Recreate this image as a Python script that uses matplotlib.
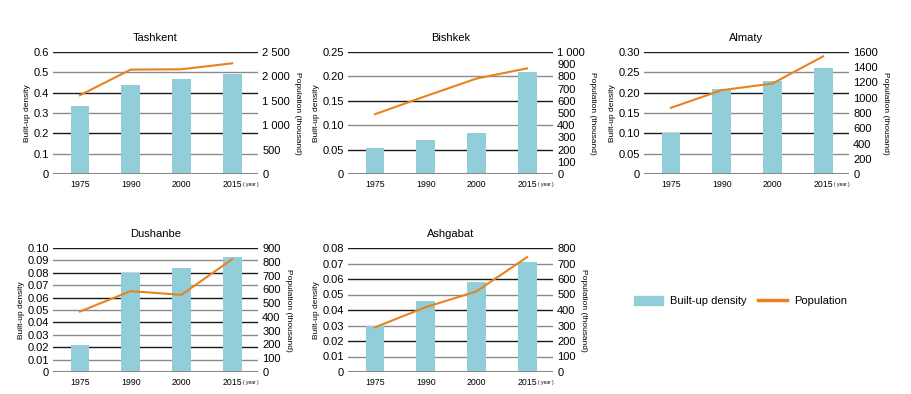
import numpy as np
import matplotlib.pyplot as plt
from matplotlib.patches import Patch
from matplotlib.lines import Line2D

plt.rcParams['font.family'] = ['Liberation Sans', 'DejaVu Sans']

years = ['1975', '1990', '2000', '2015']

# built-up density (left axis) and population in thousands (right axis)
tashkent_density = [0.335, 0.44, 0.465, 0.49]
tashkent_pop = [1614, 2139, 2146, 2268]
bishkek_density = [0.053, 0.069, 0.085, 0.21]
bishkek_pop = [490, 638, 782, 866]
almaty_density = [0.10, 0.21, 0.228, 0.26]
almaty_pop = [868, 1099, 1186, 1543]
dushanbe_density = [0.022, 0.080, 0.084, 0.093]
dushanbe_pop = [439, 587, 560, 818]
ashgabat_density = [0.030, 0.046, 0.058, 0.071]
ashgabat_pop = [288, 418, 520, 741]

bar_col = '#92CEDA'
line_col = '#E8821E'

W, H = 912, 394
fig = plt.figure(figsize=(W / 100, H / 100), dpi=100)

def px_axes(x0, y0, x1, y1):
    #pixel box (top-left origin) -> figure fraction
    return fig.add_axes([x0 / W, 1 - y1 / H, (x1 - x0) / W, (y1 - y0) / H])

def panel(box, title, dens, pop, lticks, lfmt, rticks, rlabels):
    ax = px_axes(*box)
    ax2 = ax.twinx()
    x = np.arange(len(years))
    ax.bar(x, dens, width=0.37, color=bar_col, zorder=3)
    ax2.plot(x, pop, color=line_col, lw=1.5, zorder=4)
    ax.set_xlim(-0.53, 3.51)
    ax.set_ylim(lticks[0], lticks[-1])
    ax2.set_ylim(rticks[0], rticks[-1])
    ax.set_yticks(lticks)
    ax.set_yticklabels([lfmt(v) for v in lticks])
    ax2.set_yticks(rticks)
    ax2.set_yticklabels(rlabels)
    # alternating dark / grey grid lines
    for i, v in enumerate(lticks[1:]):
        ax.axhline(v, color='#1a1a1a' if (len(lticks) - 2 - i) % 2 == 0 else '#8a8a8a', lw=1.0, zorder=1)
    ax.axhline(lticks[0], color='#8a8a8a', lw=1.5, zorder=5)
    ax.set_xticks(x)
    ax.set_xticklabels(years, fontsize=6.3)
    ax.text(3.22, -0.085, '( year )', transform=ax.get_xaxis_transform(), fontsize=3.5, va='center', ha='left')
    for a in (ax, ax2):
        for s in a.spines.values():
            s.set_visible(False)
        a.tick_params(length=0)
    ax.tick_params(axis='y', labelsize=8, pad=3)
    ax2.tick_params(axis='y', labelsize=8, pad=3)
    ax.tick_params(axis='x', pad=4)
    ax.set_ylabel('Built-up density', fontsize=6, labelpad=2)
    ax2.set_ylabel('Population (thousand)', fontsize=6, rotation=270, labelpad=8)
    ax.set_title(title, fontsize=8, pad=8)
    ax2.set_zorder(ax.get_zorder() + 1)
    ax2.patch.set_visible(False)
    return ax

def f1(v):
    return '0' if v == 0 else '%.1f' % v

def f2(v):
    return '0' if v == 0 else '%.2f' % v

def thou(v):
    return '%d' % v if v < 1000 else '%d %03d' % (v // 1000, v % 1000)

t_r = [0, 500, 1000, 1500, 2000, 2500]
panel((53, 52, 258, 174), 'Tashkent', tashkent_density, tashkent_pop,
      [0, 0.1, 0.2, 0.3, 0.4, 0.5, 0.6], f1, t_r, [thou(v) for v in t_r])
b_r = list(range(0, 1001, 100))
b_lab = [str(v) if v < 1000 else '1 000' for v in b_r]
panel((348, 52, 553, 174), 'Bishkek', bishkek_density, bishkek_pop,
      [0, 0.05, 0.10, 0.15, 0.20, 0.25], f2, b_r, b_lab)
a_r = list(range(0, 1601, 200))
panel((644, 52, 849, 174), 'Almaty', almaty_density, almaty_pop,
      [0, 0.05, 0.10, 0.15, 0.20, 0.25, 0.30], f2, a_r, [str(v) for v in a_r])
d_r = list(range(0, 901, 100))
panel((53, 248, 258, 372), 'Dushanbe', dushanbe_density, dushanbe_pop,
      [round(0.01 * i, 2) for i in range(11)], f2, d_r, [str(v) for v in d_r])
g_r = list(range(0, 801, 100))
panel((348, 248, 553, 372), 'Ashgabat', ashgabat_density, ashgabat_pop,
      [round(0.01 * i, 2) for i in range(9)], f2, g_r, [str(v) for v in g_r])

handles = [Patch(color=bar_col, label='Built-up density'),
           Line2D([], [], color=line_col, lw=2.5, label='Population')]
fig.legend(handles=handles, loc='center left', bbox_to_anchor=(624 / W, 1 - 301 / H),
           ncol=2, frameon=False, fontsize=8, handlelength=2.6, handleheight=0.9,
           columnspacing=1.1, handletextpad=0.6)

fig.savefig('out.png', dpi=100)
